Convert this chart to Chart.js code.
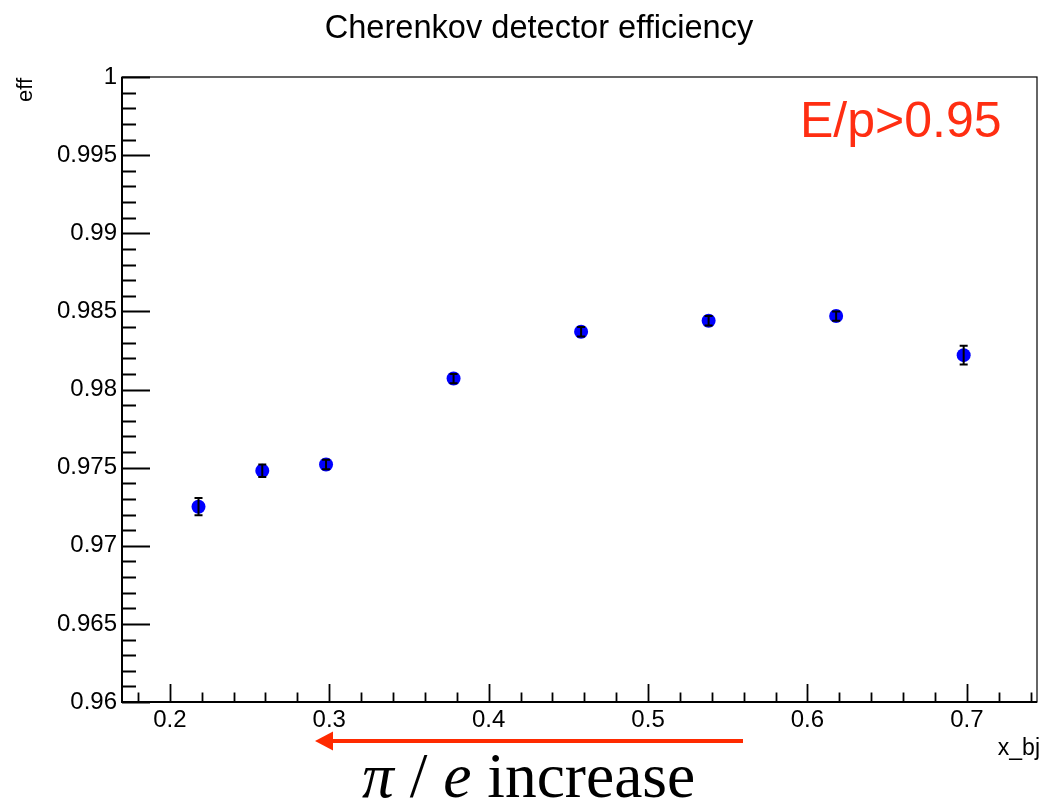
<!DOCTYPE html>
<html><head><meta charset="utf-8">
<script src="https://cdn.jsdelivr.net/npm/chart.js@4.4.0/dist/chart.umd.min.js"></script>
<style>html,body{margin:0;padding:0;background:#fff;} #wrap{width:1044px;height:805px;position:relative;}</style>
</head><body><div id="wrap"><canvas id="c" width="1044" height="805"></canvas></div>
<script>
const xValues = [0.218, 0.258, 0.298, 0.378, 0.458, 0.538, 0.618, 0.698];
const effValues = [0.9725, 0.9748, 0.9752, 0.9807, 0.9837, 0.9844, 0.9847, 0.9822];
const effErrors = [0.00055, 0.0004, 0.0003, 0.0003, 0.0003, 0.0003, 0.0003, 0.0006];
const xTickValues = [0.2, 0.3, 0.4, 0.5, 0.6, 0.7];
const xTickLabels = ['0.2', '0.3', '0.4', '0.5', '0.6', '0.7'];
const yTickValues = [0.96, 0.965, 0.97, 0.975, 0.98, 0.985, 0.99, 0.995, 1];
const yTickLabels = ['0.96', '0.965', '0.97', '0.975', '0.98', '0.985', '0.99', '0.995', '1'];
const titleText = 'Cherenkov detector efficiency';
const yAxisTitle = 'eff';
const xAxisTitle = 'x_bj';
const cutLabel = 'E/p>0.95';

const points = xValues.map((x, i) => ({ x: x, y: effValues[i] }));

const rootStyle = {
  id: 'rootStyle',
  afterDatasetsDraw(chart) {
    const ctx = chart.ctx;
    const xs = chart.scales.x, ys = chart.scales.y;
    ctx.save();
    ctx.strokeStyle = '#000';
    ctx.lineWidth = 2;
    points.forEach((p, i) => {
      const px = xs.getPixelForValue(p.x);
      const y1 = ys.getPixelForValue(p.y - effErrors[i]);
      const y2 = ys.getPixelForValue(p.y + effErrors[i]);
      ctx.beginPath();
      ctx.moveTo(px, y1); ctx.lineTo(px, y2);
      ctx.moveTo(px - 4, y1); ctx.lineTo(px + 4, y1);
      ctx.moveTo(px - 4, y2); ctx.lineTo(px + 4, y2);
      ctx.stroke();
    });
    ctx.restore();
  },
  afterDraw(chart) {
    const ctx = chart.ctx;
    const xs = chart.scales.x, ys = chart.scales.y;
    const a = chart.chartArea;
    ctx.save();
    ctx.strokeStyle = '#000';
    ctx.lineWidth = 1.2;
    ctx.strokeRect(a.left, a.top, a.right - a.left, a.bottom - a.top);
    ctx.lineWidth = 2;
    ctx.beginPath();
    ctx.moveTo(a.left, a.top); ctx.lineTo(a.left, a.bottom); ctx.lineTo(a.right, a.bottom);
    ctx.stroke();
    ctx.lineWidth = 1.8;
    ctx.beginPath();
    for (let i = 0; i <= 40; i++) {
      const v = 0.96 + i * 0.001;
      const py = Math.round(ys.getPixelForValue(v)) + 0.5;
      const len = (i % 5 === 0) ? 28 : 14;
      ctx.moveTo(a.left, py); ctx.lineTo(a.left + len, py);
    }
    for (let k = 9; k <= 37; k++) {
      const v = k * 0.02;
      const px = Math.round(xs.getPixelForValue(v)) + 0.5;
      const len = (k % 5 === 0) ? 18 : 9.5;
      ctx.moveTo(px, a.bottom); ctx.lineTo(px, a.bottom - len);
    }
    ctx.stroke();

    ctx.fillStyle = '#000';
    ctx.font = '32.6px "Liberation Sans", Arial, sans-serif';
    ctx.textAlign = 'center';
    ctx.textBaseline = 'alphabetic';
    ctx.fillText(titleText, 539, 38);

    ctx.save();
    ctx.translate(32, 78);
    ctx.rotate(-Math.PI / 2);
    ctx.font = '22px "Liberation Sans", Arial, sans-serif';
    ctx.textAlign = 'right';
    ctx.fillText(yAxisTitle, 0, 0);
    ctx.restore();

    ctx.font = '23px "Liberation Sans", Arial, sans-serif';
    ctx.textAlign = 'right';
    ctx.fillText(xAxisTitle, 1040, 755);

    ctx.fillStyle = '#ff2e12';
    ctx.font = '50px "Liberation Sans", Arial, sans-serif';
    ctx.textAlign = 'left';
    ctx.fillText(cutLabel, 800, 137);

    ctx.strokeStyle = '#ff2a00';
    ctx.fillStyle = '#ff2a00';
    ctx.lineWidth = 4;
    ctx.beginPath();
    ctx.moveTo(743, 741); ctx.lineTo(330, 741);
    ctx.stroke();
    ctx.beginPath();
    ctx.moveTo(315, 741); ctx.lineTo(333, 731.5); ctx.lineTo(333, 750.5); ctx.closePath();
    ctx.fill();

    ctx.fillStyle = '#000';
    let x = 362;
    const base = 797;
    const parts = [
      ['italic', 'π'], ['normal', ' / '], ['italic', 'e'], ['normal', ' increase']
    ];
    parts.forEach(([st, t]) => {
      ctx.font = st + ' 63.5px "Liberation Serif", "Times New Roman", serif';
      ctx.fillText(t, x, base);
      x += ctx.measureText(t).width;
    });
    ctx.restore();
  }
};

new Chart(document.getElementById('c'), {
  type: 'scatter',
  data: {
    datasets: [{
      data: points,
      backgroundColor: '#0000ff',
      borderColor: '#0000ff',
      borderWidth: 0,
      pointRadius: 7,
      pointHoverRadius: 7
    }]
  },
  options: {
    responsive: false,
    animation: false,
    devicePixelRatio: 1,
    layout: { padding: { left: 0, top: 77, right: 6, bottom: 0 } },
    plugins: { legend: { display: false }, title: { display: false }, tooltip: { enabled: false } },
    scales: {
      x: {
        type: 'linear', min: 0.17, max: 0.744,
        grid: { display: false, drawTicks: false },
        border: { display: false },
        afterBuildTicks: s => { s.ticks = xTickValues.map(v => ({ value: v })); },
        afterFit: s => { s.height = 103; },
        ticks: {
          padding: 4, color: '#000', maxRotation: 0, autoSkip: false,
          font: { family: '"Liberation Sans", Arial, sans-serif', size: 24 },
          callback: (v, i) => xTickLabels[i]
        }
      },
      y: {
        type: 'linear', min: 0.96, max: 1,
        grid: { display: false, drawTicks: false },
        border: { display: false },
        afterBuildTicks: s => { s.ticks = yTickValues.map(v => ({ value: v })); },
        afterFit: s => { s.width = 122; },
        ticks: {
          padding: 5, color: '#000', autoSkip: false,
          font: { family: '"Liberation Sans", Arial, sans-serif', size: 24 },
          callback: (v, i) => yTickLabels[i]
        }
      }
    }
  },
  plugins: [rootStyle]
});
</script></body></html>
